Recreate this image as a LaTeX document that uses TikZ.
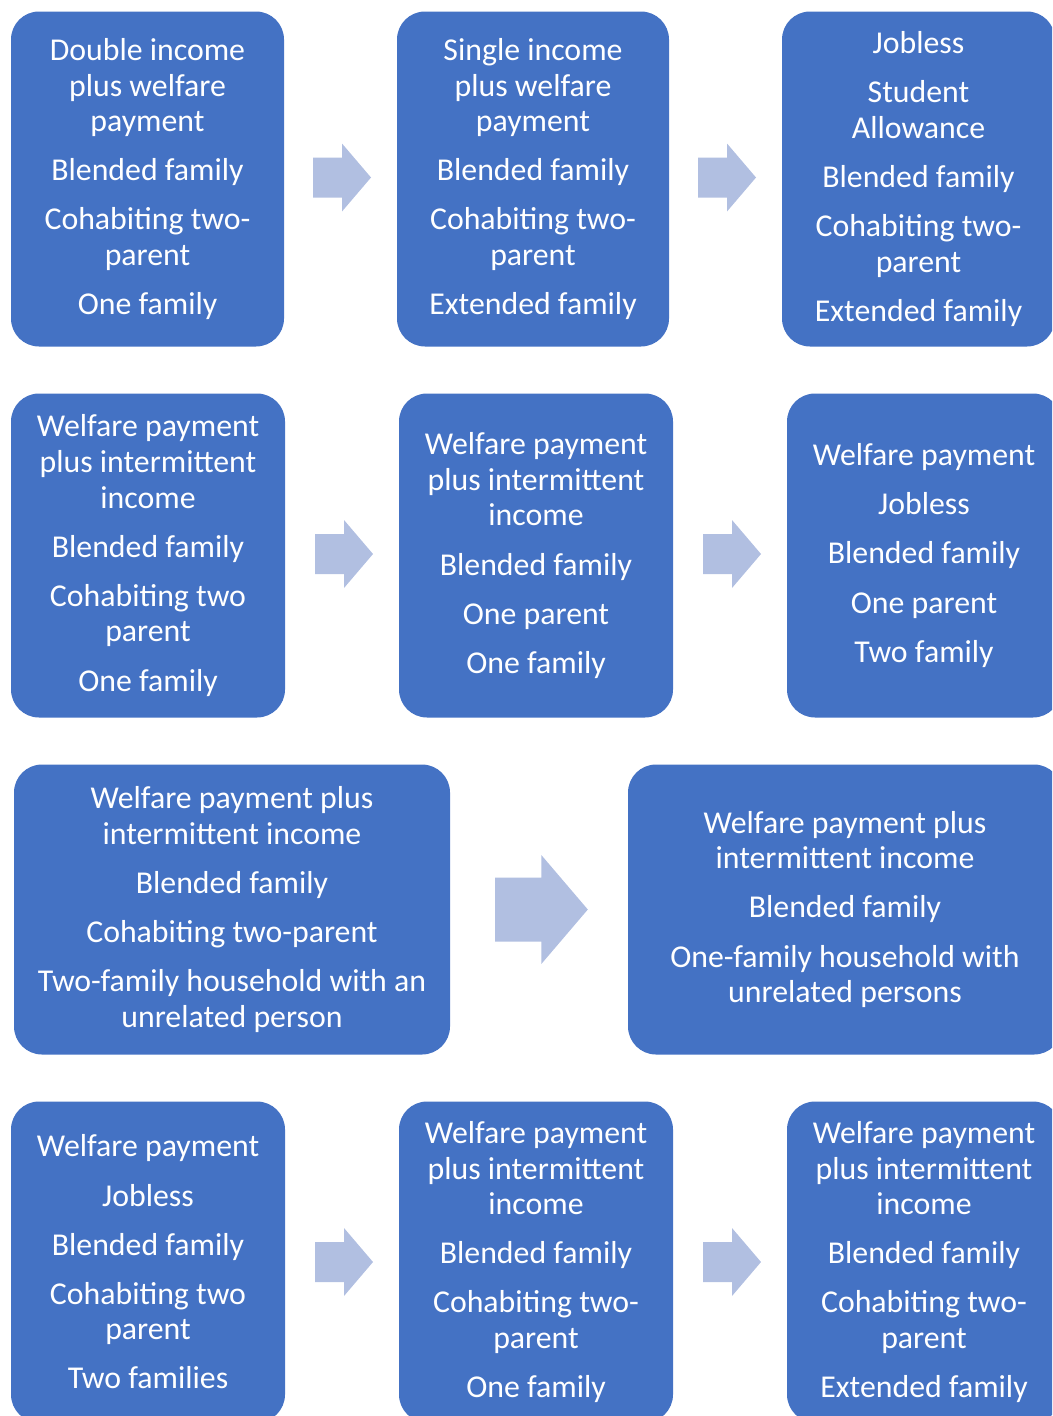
\documentclass[tikz,border=0pt]{standalone}
\usepackage{fontspec}
\setmainfont{Carlito}
\usepackage{tikz}
\usepackage{xcolor}
\usetikzlibrary{calc}
\definecolor{boxblue}{HTML}{4472C4}
\definecolor{arrowblue}{HTML}{B1BFE1}

\begin{document}
\begin{tikzpicture}[x = 1pt, y = -1pt,
  stage/.style = {fill = boxblue, rounded corners = 28pt, text = white, align = center, inner sep = 0pt, font = \fontsize{31.8}{35.6}\selectfont},
  small/.style = {stage, minimum width = 274pt},
  wide/.style = {stage, minimum width = 435pt},
  blockarrow/.pic = {\fill [arrowblue] (-29, -20) -- (0, -20) -- (0, -34) -- (29, 0) -- (0, 34) -- (0, 20) -- (-29, 20) -- cycle;}]
  \useasboundingbox (0, 0) rectangle (1052, 1416);
  \clip (0, 0) rectangle (1052, 1416);
  % first row
  \node [small, minimum width = 273pt, minimum height = 335pt] (s11) at (147.5, 179) {Double income\\plus welfare\\payment\\[13.5pt]Blended family\\[13.5pt]Cohabiting two-\\parent\\[13.5pt]One family};
  \node [small, minimum width = 272pt, minimum height = 335pt] (s12) at (533, 179) {Single income\\plus welfare\\payment\\[13.5pt]Blended family\\[13.5pt]Cohabiting two-\\parent\\[13.5pt]Extended family};
  \node [small, minimum width = 273pt, minimum height = 335pt] (s13) at (918.5, 179) {Jobless\\[13.5pt]Student\\Allowance\\[13.5pt]Blended family\\[13.5pt]Cohabiting two-\\parent\\[13.5pt]Extended family};
  \pic [xshift = 1.5pt, yshift = 1.5pt] at ($(s11.east)!.5!(s12.west)$) {blockarrow};
  \pic [xshift = 1.5pt, yshift = 1.5pt] at ($(s12.east)!.5!(s13.west)$) {blockarrow};
  % second row
  \node [small, minimum height = 324pt] (s21) at (148, 555.5) {Welfare payment\\plus intermittent\\income\\[13.5pt]Blended family\\[13.5pt]Cohabiting two\\parent\\[13.5pt]One family};
  \node [small, minimum height = 324pt] (s22) at (536, 555.5) {Welfare payment\\plus intermittent\\income\\[13.5pt]Blended family\\[13.5pt]One parent\\[13.5pt]One family};
  \node [small, minimum height = 324pt] (s23) at (924, 555.5) {Welfare payment\\[13.5pt]Jobless\\[13.5pt]Blended family\\[13.5pt]One parent\\[13.5pt]Two family};
  \pic [xshift = 2pt, yshift = 1.5pt] at ($(s21.east)!.5!(s22.west)$) {blockarrow};
  \pic [xshift = 2pt, yshift = 1.5pt] at ($(s22.east)!.5!(s23.west)$) {blockarrow};
  % third row
  \node [wide, minimum width = 436pt, minimum height = 290pt] (s31) at (232, 909.5) {Welfare payment plus\\intermittent income\\[13.5pt]Blended family\\[13.5pt]Cohabiting two-parent\\[13.5pt]Two-family household with an\\unrelated person};
  \node [wide, minimum width = 434pt, minimum height = 290pt] (s32) at (845, 909.5) {Welfare payment plus\\intermittent income\\[13.5pt]Blended family\\[13.5pt]One-family household with\\unrelated persons};
  \pic [scale = 1.6, xshift = 1.5pt] at ($(s31.east)!.5!(s32.west)$) {blockarrow};
  % fourth row
  \node [small, minimum height = 321pt] (s41) at (148, 1262) {Welfare payment\\[13.5pt]Jobless\\[13.5pt]Blended family\\[13.5pt]Cohabiting two\\parent\\[13.5pt]Two families};
  \node [small, minimum height = 321pt] (s42) at (536, 1262) {Welfare payment\\plus intermittent\\income\\[13.5pt]Blended family\\[13.5pt]Cohabiting two-\\parent\\[13.5pt]One family};
  \node [small, minimum height = 321pt] (s43) at (924, 1262) {Welfare payment\\plus intermittent\\income\\[13.5pt]Blended family\\[13.5pt]Cohabiting two-\\parent\\[13.5pt]Extended family};
  \pic [xshift = 2pt] at ($(s41.east)!.5!(s42.west)$) {blockarrow};
  \pic [xshift = 2pt] at ($(s42.east)!.5!(s43.west)$) {blockarrow};
\end{tikzpicture}
\end{document}
